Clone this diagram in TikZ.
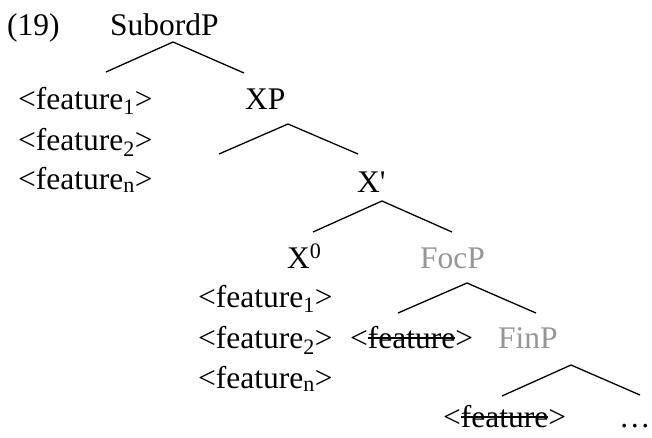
\documentclass[tikz,border=0pt]{standalone}
\usepackage{fontspec}
\setmainfont{Liberation Serif}
\definecolor{lightlab}{RGB}{150,150,150}
\tikzset{
  lab/.style={inner sep=0pt, anchor=base west, font=\fontsize{31.5}{36}\selectfont},
  glab/.style={lab, text=lightlab},
  branch/.style={line width=1.3pt, black}
}
\newsavebox\strkbox
\newcommand{\feat}[1]{<feature\textsubscript{#1}>}
\newcommand{\strk}{<\sbox\strkbox{feature}\rlap{\rule[0.29em]{\wd\strkbox}{0.065em}}\usebox\strkbox>}
\begin{document}
\begin{tikzpicture}[x=1pt,y=-1pt]
\useasboundingbox (0,0) rectangle (652,437);
% labels
\node[lab] (ex) at (7,35) {(19)};
\node[lab] (subord) at (110,35) {SubordP};
\node[lab] (f1a) at (18,109) {\feat{1}};
\node[lab] (f2a) at (18,150) {\feat{2}};
\node[lab] (fna) at (18,189) {\feat{n}};
\node[lab] (xp) at (245,109) {XP};
\node[lab] (xbar) at (357,192) {X\textquotesingle};
\node[lab] (x0) at (287,268) {X\textsuperscript{0}};
\node[glab] (focp) at (420,268) {FocP};
\node[lab] (f1b) at (198,307) {\feat{1}};
\node[lab] (f2b) at (198,348) {\feat{2}};
\node[lab] (fnb) at (198,388) {\feat{n}};
\node[lab] (s1) at (350,348) {\strk};
\node[glab] (finp) at (498,348) {FinP};
\node[lab] (s2) at (443,427) {\strk};
\node[lab] (dots) at (619,427) {…};
% branch points
\coordinate (a1) at (173,42); \coordinate (l1) at (106,72); \coordinate (r1) at (244,73);
\coordinate (a2) at (288,124); \coordinate (l2) at (219,154); \coordinate (r2) at (358,154);
\coordinate (a3) at (382,201); \coordinate (l3) at (313,232); \coordinate (r3) at (452,232);
\coordinate (a4) at (467,283); \coordinate (l4) at (398,313); \coordinate (r4) at (536,313);
\coordinate (a5) at (571,365); \coordinate (l5) at (502,396); \coordinate (r5) at (640,395);
\foreach \i in {1,...,5}{\draw[branch] (l\i) -- (a\i) -- (r\i);}
\end{tikzpicture}
\end{document}
